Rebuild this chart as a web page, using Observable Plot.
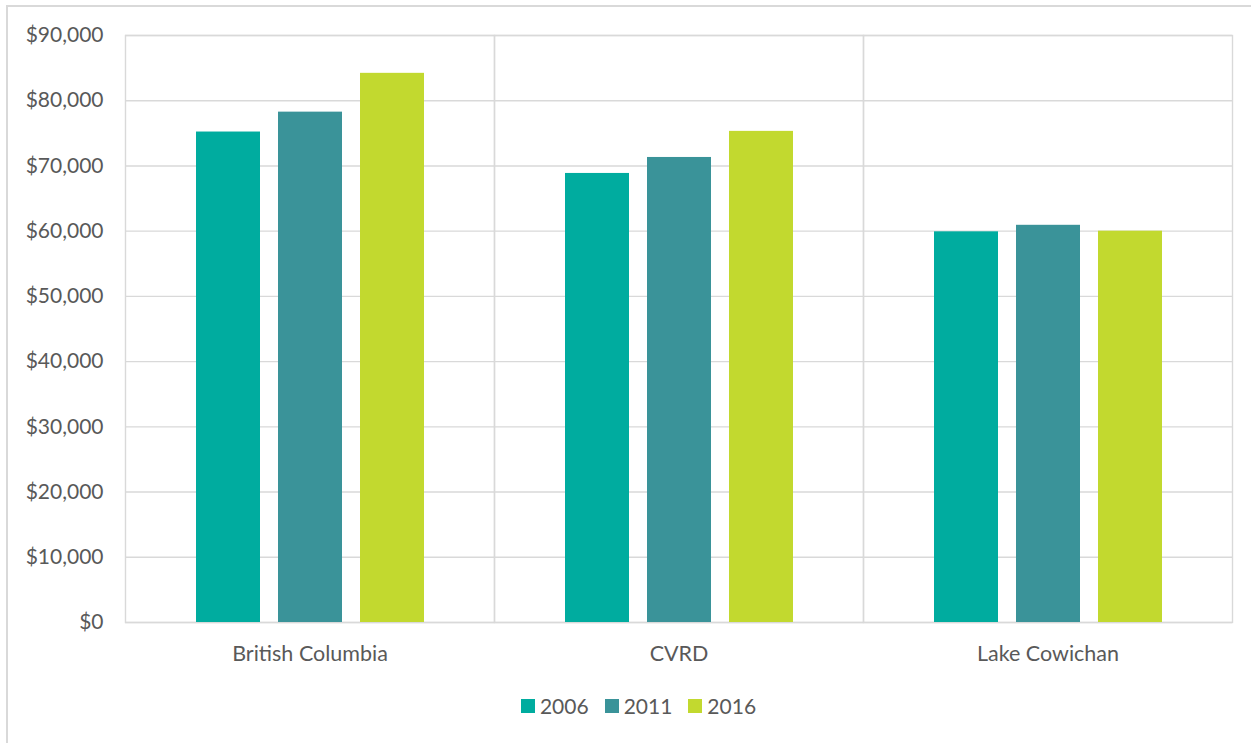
<!DOCTYPE html>
<html>
<head>
<meta charset="utf-8">
<script src="https://cdn.jsdelivr.net/npm/d3@7"></script>
<script src="https://cdn.jsdelivr.net/npm/@observablehq/plot@0.6"></script>
<style>
  html, body { margin: 0; padding: 0; background: #fff; width: 1251px; height: 743px; overflow: hidden; }
  #border { position: absolute; left: 6px; top: 5px; width: 1300px; height: 800px; border-left: 2px solid #d9d9d9; border-top: 2px solid #d9d9d9; }
  #chart { position: absolute; left: 0; top: 0; }
  #legend { position: absolute; top: 693px; left: 0; width: 1251px; display: flex; justify-content: center; padding-left: 26px; box-sizing: border-box;
            font-family: Lato, "Open Sans", sans-serif; font-size: 21px; color: #595959; }
  .item { display: flex; align-items: center; margin: 0 8px; }
  .sw { width: 14px; height: 14px; margin-right: 5px; }
</style>
</head>
<body>
<div id="border"></div>
<div id="chart"></div>
<div id="legend"></div>
<script>
const categories = ["British Columbia", "CVRD", "Lake Cowichan"];
const years = ["2006", "2011", "2016"];
const values2006 = [75200, 68850, 59900];
const values2011 = [78250, 71300, 60900];
const values2016 = [84200, 75300, 60000];
const colors = ["#00ac9f", "#3a9399", "#c2d92f"];
const yTicks = [0, 10000, 20000, 30000, 40000, 50000, 60000, 70000, 80000, 90000];

const series = [values2006, values2011, values2016];
const data = [];
categories.forEach((c, i) => {
  years.forEach((y, j) => data.push({category: c, year: y, value: series[j][i]}));
});

const fmt = d3.format(",");
const chart = Plot.plot({
  width: 1251,
  height: 690,
  marginLeft: 125,
  marginRight: 19,
  marginTop: 35,
  marginBottom: 68,
  style: {fontFamily: "Lato, 'Open Sans', sans-serif", fontSize: "20px", color: "#595959", background: "transparent"},
  fx: {domain: categories, padding: 0, label: null},
  x: {domain: years, axis: null, paddingInner: 0.22, paddingOuter: 0.86},
  y: {domain: [0, 90000], label: null},
  color: {domain: years, range: colors},
  marks: [
    Plot.gridY(yTicks, {stroke: "#d9d9d9", strokeOpacity: 1, strokeWidth: 1.4}),
    Plot.frame({stroke: "#d9d9d9", strokeWidth: 1.4}),
    Plot.barY(data, {fx: "category", x: "year", y: "value", fill: "year"}),
    Plot.axisY(yTicks, {tickSize: 0, tickPadding: 22, tickFormat: d => "$" + fmt(d), fontSize: 21, label: null}),
    Plot.axisFx({anchor: "bottom", tickSize: 0, tickPadding: 23, fontSize: 21.5, label: null})
  ]
});
document.getElementById("chart").appendChild(chart);

const legend = document.getElementById("legend");
years.forEach((y, i) => {
  const item = document.createElement("div");
  item.className = "item";
  const sw = document.createElement("div");
  sw.className = "sw";
  sw.style.background = colors[i];
  const t = document.createElement("span");
  t.textContent = y;
  item.appendChild(sw);
  item.appendChild(t);
  legend.appendChild(item);
});
</script>
</body>
</html>
